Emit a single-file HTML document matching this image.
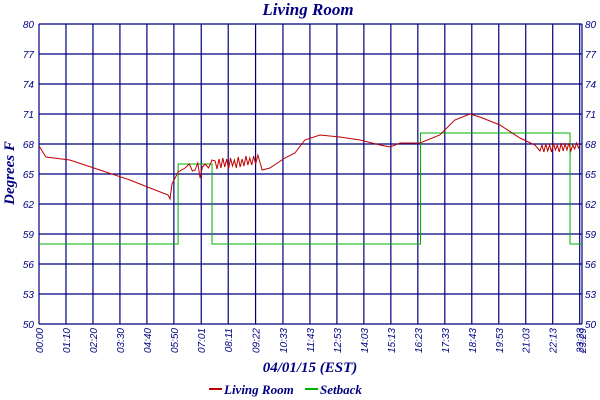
<!DOCTYPE html>
<html><head><meta charset="utf-8"><style>
body{margin:0;background:#fff;}
svg{display:block;font-family:"Liberation Sans",sans-serif;}
</style></head><body>
<svg width="600" height="400" xmlns="http://www.w3.org/2000/svg">
<text x="308" y="15" text-anchor="middle" font-family="Liberation Serif,serif" font-style="italic" font-weight="bold" font-size="17" fill="#000080">Living Room</text>
<text transform="translate(14,173) rotate(-90)" text-anchor="middle" font-family="Liberation Serif,serif" font-style="italic" font-weight="bold" font-size="15" fill="#000080">Degrees F</text>
<text x="310" y="372" text-anchor="middle" font-family="Liberation Serif,serif" font-style="italic" font-weight="bold" font-size="15" fill="#000080">04/01/15 (EST)</text>
<g id="grid"></g>
<g id="series"></g>
<g>
<line x1="209" y1="389" x2="222" y2="389" stroke="#c00000" stroke-width="2"/>
<text x="224" y="394" font-family="Liberation Serif,serif" font-style="italic" font-weight="bold" font-size="13" fill="#000080">Living Room</text>
<line x1="305" y1="389" x2="318" y2="389" stroke="#00b000" stroke-width="2"/>
<text x="320" y="394" font-family="Liberation Serif,serif" font-style="italic" font-weight="bold" font-size="13" fill="#000080">Setback</text>
</g>
</svg>
<script>
const yTicks=[50,53,56,59,62,65,68,71,74,77,80];
const xTickLabels=["00:00","01:10","02:20","03:30","04:40","05:50","07:01","08:11","09:22","10:33","11:43","12:53","14:03","15:13","16:23","17:33","18:43","19:53","21:03","22:13","23:23"];
const xTickMinutes=[0,70,140,210,280,350,421,491,562,633,703,773,843,913,983,1053,1123,1193,1263,1333,1403];
const lastLabel="23:29";
const lastMinute=1409;
const roomTimes=[0,18,80,158,236,288,335,340,345,361,379,390,398,405,412,418,424,431,440,449,457,462,467,472,477,482,487,492,497,502,507,512,517,522,527,532,537,542,547,552,557,562,568,579,599,638,664,690,729,781,833,885,911,937,989,1040,1079,1118,1144,1196,1248,1287,1300,1305,1310,1315,1320,1325,1330,1335,1340,1345,1350,1355,1360,1365,1370,1375,1380,1385,1390,1395,1400,1404];
const roomTemps=[67.8,66.7,66.4,65.4,64.4,63.6,62.9,62.5,64.0,65.2,65.6,66.0,65.3,65.4,66.1,64.6,65.7,66.0,65.6,66.4,66.3,65.5,66.5,65.6,66.6,65.7,66.5,65.5,66.6,65.8,66.4,65.6,66.7,65.7,66.5,65.8,66.8,65.9,66.6,65.9,66.8,66.0,66.9,65.4,65.6,66.6,67.1,68.4,68.9,68.7,68.4,67.9,67.7,68.1,68.1,68.9,70.4,71.0,70.7,69.9,68.6,67.9,67.3,67.9,67.2,68.0,67.3,67.9,67.2,68.1,67.4,67.9,67.2,68.1,67.3,68.0,67.4,68.1,67.3,67.9,67.5,68.1,67.6,67.9];
const setTimes=[0,361,361,449,449,990,990,1378,1378,1409];
const setTemps=[58,58,66,66,58,58,69.1,69.1,58,58];

const L=39,R=582,T=24,B=324;
const xs=m=>L+(R-L)*m/lastMinute;
const ys=v=>B-(B-T)*(v-50)/30;
const NS="http://www.w3.org/2000/svg";
function mk(tag,attrs,parent){const e=document.createElementNS(NS,tag);for(const k in attrs)e.setAttribute(k,attrs[k]);parent.appendChild(e);return e;}
const grid=document.getElementById('grid');
yTicks.forEach(v=>{
  const l=mk('line',{x1:L,x2:R,y1:ys(v),y2:ys(v),stroke:'#000080','stroke-width':1.2},grid);
  
  
  const t1=mk('text',{x:L-5,y:ys(v)+4,'text-anchor':'end','font-size':10,'font-style':'italic',fill:'#000080'},grid);
  t1.textContent=v;
  
  
  const t2=mk('text',{x:R+3,y:ys(v)+4,'font-size':10,'font-style':'italic',fill:'#000080'},grid);
  t2.textContent=v;
  
  
});
const allX=xTickMinutes.concat([lastMinute]);
const allLab=xTickLabels.concat([lastLabel]);
allX.forEach((m,i)=>{
  const l=mk('line',{x1:xs(m),x2:xs(m),y1:T,y2:B,stroke:'#000080','stroke-width':1.2},grid);
  
  
  const x=xs(m)+4;
  const t=mk('text',{x:x,y:B+4,transform:`rotate(-90 ${x} ${B+4})`,'text-anchor':'end','font-size':10,'font-style':'italic',fill:'#000080'},grid);
  t.textContent=allLab[i];
  
  
});
const series=document.getElementById('series');
const sp=mk('polyline',{points:setTimes.map((m,i)=>xs(m)+','+ys(setTemps[i])).join(' '),fill:'none',stroke:'#00b000','stroke-width':1},series);


const rp=mk('polyline',{points:roomTimes.map((m,i)=>xs(m)+','+ys(roomTemps[i])).join(' '),fill:'none',stroke:'#c00000','stroke-width':1},series);


</script>
</body></html>
